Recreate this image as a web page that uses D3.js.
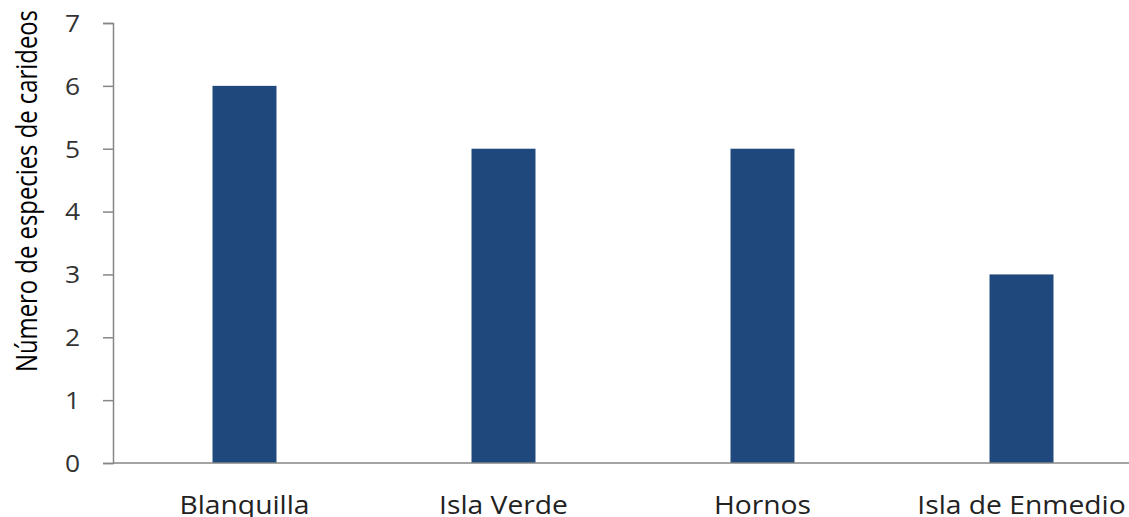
<!DOCTYPE html>
<html>
<head>
<meta charset="utf-8">
<script src="https://cdn.jsdelivr.net/npm/d3@7"></script>
<style>
  body { margin: 0; background: #fff; }
  svg { display: block; }
</style>
</head>
<body>
<svg width="1129" height="517"></svg>
<script>
const islands = ['Blanquilla', 'Isla Verde', 'Hornos', 'Isla de Enmedio']
const species = [6, 5, 5, 3]
const yTicks = [0, 1, 2, 3, 4, 5, 6, 7]

const width = 1129, height = 517
const marginLeft = 113, baseY = 463, topY = 23
const step = 259

const svg = d3.select('svg')

const x = d3.scaleBand()
  .domain(islands)
  .range([marginLeft + 2, marginLeft + 2 + step * islands.length])
  .paddingInner(0.753)
  .paddingOuter(0.3765)

const y = d3.scaleLinear()
  .domain([0, 7])
  .range([baseY, topY])

// bars
svg.append('g')
  .selectAll('rect')
  .data(islands)
  .enter()
  .append('rect')
  .attr('x', d => x(d))
  .attr('y', (d, i) => y(species[i]))
  .attr('width', x.bandwidth())
  .attr('height', (d, i) => y(0) - y(species[i]))
  .attr('fill', '#1f497d')

// y axis
const yAxis = svg.append('g')
  .attr('transform', 'translate(' + marginLeft + ',0)')
  .call(d3.axisLeft(y).tickValues(yTicks).tickSize(10).tickPadding(0).tickFormat(''))
yAxis.select('.domain').attr('stroke', '#868686').attr('stroke-width', 1.5)
yAxis.selectAll('.tick line').attr('stroke', '#868686').attr('stroke-width', 1.5)

// tick labels, slightly wide
yAxis.selectAll('.tick')
  .append('g')
  .attr('transform', 'translate(-33,0) scale(1.15,1)')
  .append('text')
  .attr('text-anchor', 'end')
  .attr('dy', '0.36em')
  .attr('font-family', 'Open Sans')
  .attr('font-size', 23)
  .attr('fill', '#333')
  .text(d => d)

// x baseline
svg.append('line')
  .attr('x1', marginLeft)
  .attr('x2', width)
  .attr('y1', y(0))
  .attr('y2', y(0))
  .attr('stroke', '#868686')
  .attr('stroke-width', 1.5)

// category labels, a bit wide like the original
svg.append('g')
  .selectAll('g')
  .data(islands)
  .enter()
  .append('g')
  .attr('transform', d => 'translate(' + (x(d) + x.bandwidth() / 2) + ',514) scale(1.13,1)')
  .append('text')
  .attr('text-anchor', 'middle')
  .attr('font-family', 'Open Sans')
  .attr('font-size', 25)
  .attr('fill', '#222')
  .text(d => d)

// y title, narrow
svg.append('text')
  .attr('transform', 'translate(37,191) rotate(-90)')
  .attr('text-anchor', 'middle')
  .attr('font-family', 'Open Sans')
  .attr('font-size', 30)
  .attr('textLength', 362)
  .attr('lengthAdjust', 'spacingAndGlyphs')
  .attr('fill', '#000')
  .text('Número de especies de carideos')
</script>
</body>
</html>
